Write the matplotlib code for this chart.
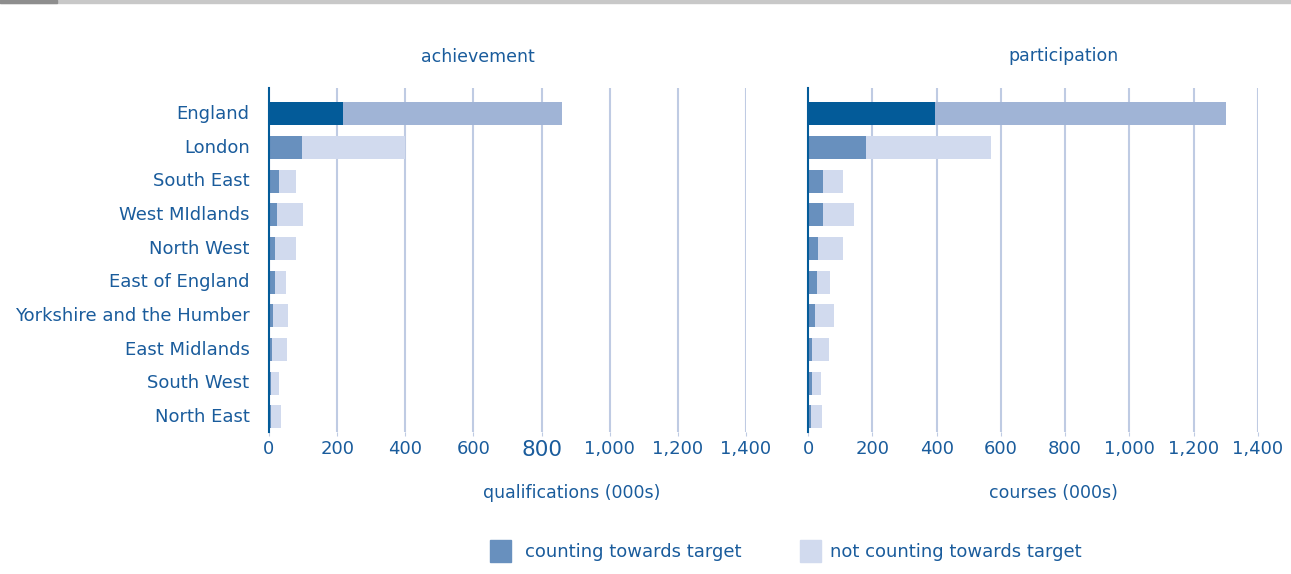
import numpy as np
import matplotlib.pyplot as plt
from matplotlib.patches import Rectangle

plt.rcParams['font.family'] = ['DejaVu Sans']

regions = ['England', 'London', 'South East', 'West MIdlands', 'North West',
           'East of England', 'Yorkshire and the Humber', 'East Midlands',
           'South West', 'North East']

# achievement, qualifications (000s)
ach_count = [218, 98, 29, 23, 17, 17, 11, 8, 5, 5]
ach_total = [860, 400, 80, 101, 80, 50, 56, 53, 29, 35]

# participation, courses (000s)
par_count = [395, 180, 46, 46, 30, 27, 21, 12, 12, 9]
par_total = [1300, 569, 109, 142, 109, 68, 80, 65, 40, 43]

ticks = [0, 200, 400, 600, 800, 1000, 1200, 1400]
tick_labels = ['0', '200', '400', '600', '800', '1,000', '1,200', '1,400']

txt = '#1A5C9C'
dark_eng = '#035B99'
light_eng = '#A0B4D6'
dark = '#6890BE'
light = '#D1DAEE'
grid = '#BFCBE3'

fig = plt.figure(figsize=(12.91, 5.74), dpi=100)

# top decoration
fig.patches.append(Rectangle((0, 1 - 3 / 574), 1, 3 / 574, transform=fig.transFigure,
                             color='#C8C8C8', zorder=0))
fig.patches.append(Rectangle((0, 1 - 3 / 574), 57 / 1291, 3 / 574, transform=fig.transFigure,
                             color='#8E8E8E', zorder=1))

W, H = 1291, 574
ax1 = fig.add_axes([269 / W, 1 - 432 / H, (746 - 269) / W, (432 - 88) / H])
ax2 = fig.add_axes([808 / W, 1 - 432 / H, (1258 - 808) / W, (432 - 88) / H])

y = np.arange(len(regions))
for ax, cnt, tot in [(ax1, ach_count, ach_total), (ax2, par_count, par_total)]:
    rest = np.array(tot) - np.array(cnt)
    cols_d = [dark_eng] + [dark] * (len(regions) - 1)
    cols_l = [light_eng] + [light] * (len(regions) - 1)
    ax.barh(y, cnt, height=0.68, color=cols_d, zorder=3)
    ax.barh(y, rest, left=cnt, height=0.68, color=cols_l, zorder=3)
    ax.set_xlim(0, 1400)
    ax.set_ylim(9.45, -0.77)
    ax.set_xticks(ticks)
    ax.set_xticklabels(tick_labels, color=txt, fontsize=13)
    ax.tick_params(axis='x', length=3, color=grid, pad=3)
    ax.tick_params(axis='y', length=0)
    for t in ticks[1:]:
        ax.axvline(t, color=grid, lw=1.5, zorder=1)
    for s in ['top', 'right', 'bottom']:
        ax.spines[s].set_visible(False)
    ax.spines['left'].set_color(dark_eng)
    ax.spines['left'].set_linewidth(1.5)
    ax.spines['left'].set_zorder(4)

ax1.set_yticks(y - 0.06)
ax1.set_yticklabels(regions, color=txt, fontsize=13)
ax1.tick_params(axis='y', pad=14)
ax2.set_yticks([])
ax1.get_xticklabels()[4].set_fontsize(15.5)

fig.text(478 / W, 1 - 57 / H, 'achievement', color=txt, fontsize=12.5, ha='center', va='center')
fig.text(1063 / W, 1 - 56 / H, 'participation', color=txt, fontsize=12.5, ha='center', va='center')
fig.text(572 / W, 1 - 493 / H, 'qualifications (000s)', color=txt, fontsize=12.5, ha='center', va='center')
fig.text(1053 / W, 1 - 493 / H, 'courses (000s)', color=txt, fontsize=12.5, ha='center', va='center')

# legend
fig.patches.append(Rectangle((490 / W, 1 - 562 / H), 21 / W, 22 / H, transform=fig.transFigure, color=dark))
fig.text(525 / W, 1 - 552 / H, 'counting towards target', color=txt, fontsize=13, va='center')
fig.patches.append(Rectangle((800 / W, 1 - 562 / H), 21 / W, 22 / H, transform=fig.transFigure, color=light))
fig.text(830 / W, 1 - 552 / H, 'not counting towards target', color=txt, fontsize=13, va='center')

fig.savefig('out.png', dpi=100)
